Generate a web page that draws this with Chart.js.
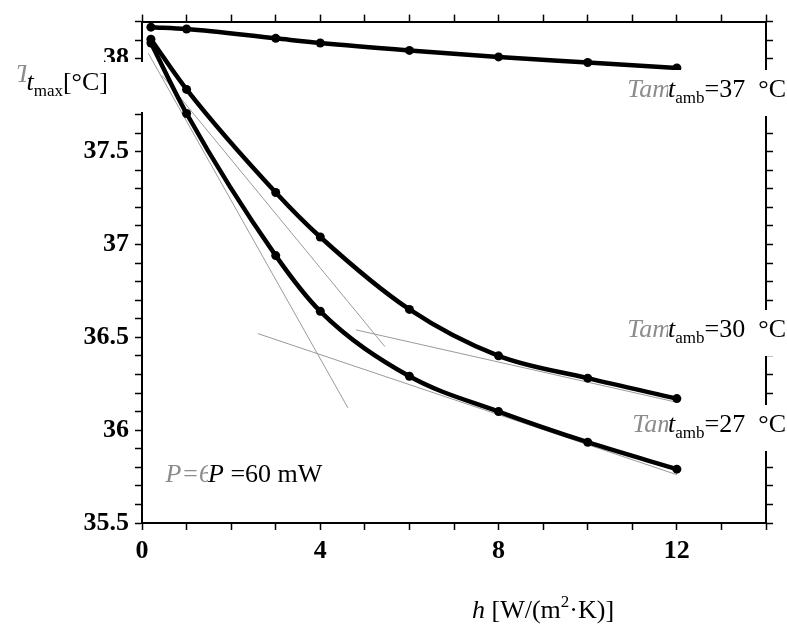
<!DOCTYPE html>
<html>
<head>
<meta charset="utf-8">
<script src="https://cdn.jsdelivr.net/npm/chart.js@4.4.1/dist/chart.umd.min.js"></script>
<style>
html,body{margin:0;padding:0;background:#fff;}
canvas{display:block;}
</style>
</head>
<body>
<canvas id="c" width="787" height="624"></canvas>
<script>
// ---- data ----
const hValues = [0.2, 1, 3, 4, 6, 8, 10, 12];
const tmax37 = [38.17, 38.16, 38.11, 38.085, 38.045, 38.01, 37.98, 37.95];
const tmax30 = [38.105, 37.835, 37.28, 37.04, 36.65, 36.40, 36.28, 36.17];
const tmax27 = [38.085, 37.705, 36.94, 36.64, 36.29, 36.10, 35.935, 35.79];
// thin grey tangent lines (two end points each)
const tangentA_h = [0.14, 4.62];  const tangentA_t = [38.03, 36.12];
const tangentB_h = [0.45, 5.45];  const tangentB_t = [37.91, 36.45];
const tangentC_h = [2.6, 12.0];   const tangentC_t = [36.52, 35.76];
const tangentD_h = [4.8, 12.0];   const tangentD_t = [36.54, 36.15];
const xTickLabels = [0, 4, 8, 12];
const yTickLabels = [35.5, 36, 36.5, 37, 37.5, 38];
const seriesLabels = ['37', '30', '27'];

const pts = (xs, ys) => xs.map((x, i) => ({x: x, y: ys[i]}));
const SERIF = '"Liberation Serif", "Times New Roman", serif';

const curve = (label, ys) => ({
  label: label, data: pts(hValues, ys),
  borderColor: '#000', backgroundColor: '#000', borderWidth: 4.5,
  pointRadius: 4.5, pointBackgroundColor: '#000', pointBorderWidth: 0,
  cubicInterpolationMode: 'monotone', fill: false
});
const tangent = (xs, ys) => ({
  data: pts(xs, ys), borderColor: '#9a9a9a', borderWidth: 1,
  pointRadius: 0, fill: false, tension: 0
});

function drawRich(ctx, parts, x, y) {
  let cx = x;
  parts.forEach(p => {
    ctx.font = p.font; ctx.fillStyle = p.color || '#000';
    ctx.fillText(p.text, cx, y + (p.dy || 0));
    cx += ctx.measureText(p.text).width;
  });
  return cx;
}
function richWidth(ctx, parts) {
  let w = 0;
  parts.forEach(p => { ctx.font = p.font; w += ctx.measureText(p.text).width; });
  return w;
}
const F = (sz, style) => (style || '') + ' ' + sz + 'px ' + SERIF;

const labelPlugin = {
  id: 'labels',
  afterDraw(chart) {
    const ctx = chart.ctx;
    ctx.save();
    ctx.textBaseline = 'alphabetic';
    ctx.textAlign = 'left';
    const grey = '#8c8c8c';

    // y axis label
    {
      const base = 90;
      const parts = [
        {text: 't', font: F(26, 'italic')},
        {text: 'max', font: F(17), dy: 6},
        {text: '[°C]', font: F(26)}
      ];
      const w = richWidth(ctx, parts);
      const sx = 108 - w;
      ctx.font = F(26, 'italic'); ctx.fillStyle = grey;
      const gw = ctx.measureText('T').width;
      ctx.fillText('T', sx - gw + 4, base - 8);
      ctx.fillStyle = '#fff';
      ctx.fillRect(sx, base - 28, 146 - sx, 50);
      drawRich(ctx, parts, sx, base);
    }

    // right side series labels
    const rl = [
      {val: seriesLabels[0], base: 97, over: 3},
      {val: seriesLabels[1], base: 337, over: 3},
      {val: seriesLabels[2], base: 432, over: 8}
    ];
    rl.forEach(r => {
      const parts = [
        {text: 't', font: F(26, 'italic')},
        {text: 'amb', font: F(17), dy: 6},
        {text: '=' + r.val + '  °C', font: F(26)}
      ];
      const w = richWidth(ctx, parts);
      const sx = 786 - w;
      ctx.font = F(26, 'italic'); ctx.fillStyle = grey;
      const gw = ctx.measureText('Tam').width;
      ctx.fillText('Tam', sx - gw + r.over, r.base);
      ctx.fillStyle = '#fff';
      ctx.fillRect(sx, r.base - 27, 787 - sx, 46);
      drawRich(ctx, parts, sx, r.base);
    });

    // power label
    {
      const base = 482;
      const parts = [
        {text: 'P', font: F(26, 'italic')},
        {text: ' =60 mW', font: F(26)}
      ];
      const sx = 208;
      const w = richWidth(ctx, parts);
      ctx.font = F(26, 'italic'); ctx.fillStyle = grey;
      const gw = ctx.measureText('P=6').width;
      ctx.fillText('P=6', sx - gw + 4, base);
      ctx.fillStyle = '#fff';
      ctx.fillRect(sx, base - 22, w, 28);
      drawRich(ctx, parts, sx, base);
    }

    // x axis title
    drawRich(ctx, [
      {text: 'h', font: F(26, 'italic')},
      {text: ' [W/(m', font: F(26)},
      {text: '2', font: F(17), dy: -11},
      {text: '·K)]', font: F(26)}
    ], 472, 618);
    ctx.restore();
  }
};

const isHalf = v => Math.abs(v * 2 - Math.round(v * 2)) < 1e-6;
const axisCommon = {
  border: {display: true, color: '#000', width: 2},
  grid: {display: true, drawOnChartArea: false, drawTicks: true, tickLength: 7,
         tickColor: '#000', tickWidth: 1.5},
};

new Chart(document.getElementById('c'), {
  type: 'line',
  data: {
    datasets: [
      curve('37', tmax37), curve('30', tmax30), curve('27', tmax27),
      tangent(tangentA_h, tangentA_t), tangent(tangentB_h, tangentB_t),
      tangent(tangentC_h, tangentC_t), tangent(tangentD_h, tangentD_t)
    ]
  },
  options: {
    responsive: false, animation: false, devicePixelRatio: 1,
    layout: {padding: 0},
    plugins: {legend: {display: false}, tooltip: {enabled: false}},
    scales: {
      x: Object.assign({}, axisCommon, {
        type: 'linear', position: 'bottom', min: 0, max: 14,
        ticks: {stepSize: 1, autoSkip: false, maxRotation: 0, padding: 6, color: '#000',
          font: {family: SERIF, size: 26, weight: 'bold'},
          callback: v => xTickLabels.includes(v) ? String(v) : ''},
        afterFit: s => { s.height = 101; }
      }),
      x2: Object.assign({}, axisCommon, {
        type: 'linear', axis: 'x', position: 'top', min: 0, max: 14,
        ticks: {stepSize: 1, autoSkip: false, callback: () => ''},
        afterFit: s => { s.height = 15; }
      }),
      y: Object.assign({}, axisCommon, {
        type: 'linear', position: 'left', min: 35.5, max: 38.2,
        ticks: {stepSize: 0.1, autoSkip: false, padding: 6, color: '#000',
          font: {family: SERIF, size: 26, weight: 'bold'},
          callback: v => {
            if (!isHalf(v)) return '';
            const r = Math.round(v * 2) / 2;
            return yTickLabels.includes(r) ? String(r) : '';
          }},
        afterFit: s => { s.width = 142; }
      }),
      y2: Object.assign({}, axisCommon, {
        type: 'linear', axis: 'y', position: 'right', min: 35.5, max: 38.2,
        ticks: {stepSize: 0.1, autoSkip: false, callback: () => ''},
        afterFit: s => { s.width = 21; }
      })
    }
  },
  plugins: [labelPlugin]
});
</script>
</body>
</html>
